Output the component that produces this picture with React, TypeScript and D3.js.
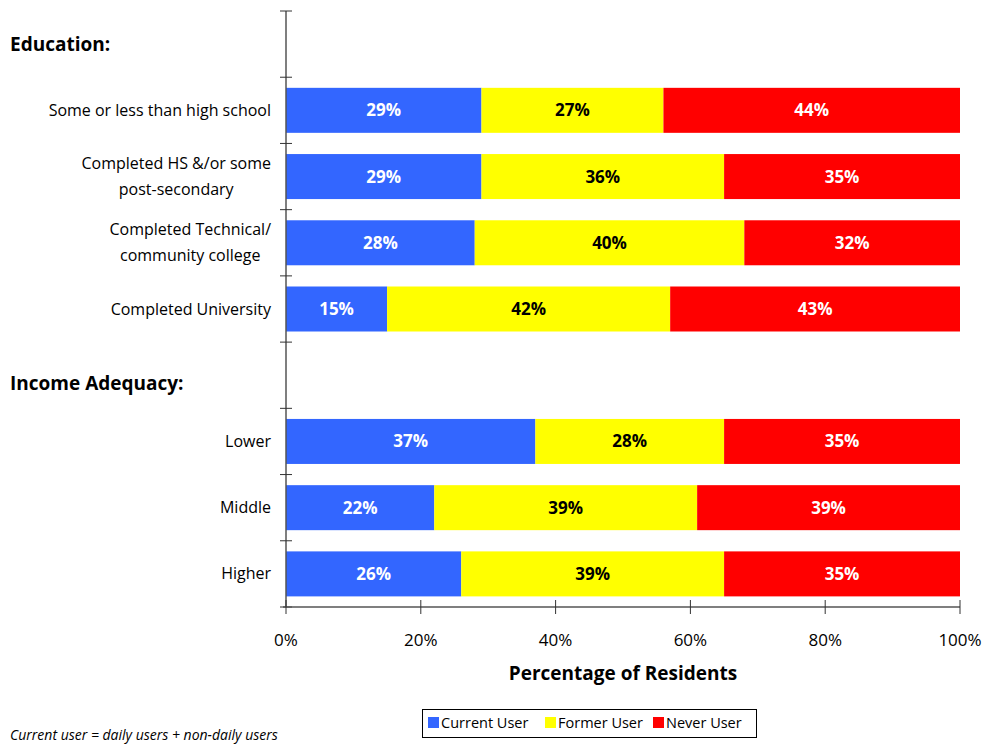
import React, { useEffect, useRef } from "react";
import * as d3 from "d3";

const categories = [
  "__Education:",
  "Some or less than high school",
  "Completed HS &/or some\npost-secondary",
  "Completed Technical/\ncommunity college",
  "Completed University",
  "__Income Adequacy:",
  "Lower",
  "Middle",
  "Higher",
];
const currentUser = [null, 29, 29, 28, 15, null, 37, 22, 26];
const formerUser = [null, 27, 36, 40, 42, null, 28, 39, 39];
const neverUser = [null, 44, 35, 32, 43, null, 35, 39, 35];
const seriesNames = ["Current User", "Former User", "Never User"];
const seriesColors = ["#3366FF", "#FFFF00", "#FF0000"];
const labelColors = ["#FFFFFF", "#000000", "#FFFFFF"];
const xTicks = [0, 20, 40, 60, 80, 100];

const FONT = "'Open Sans', Lato, sans-serif";

export default function App() {
  const ref = useRef<SVGSVGElement>(null);
  useEffect(() => {
    const svg = d3.select(ref.current);
    svg.selectAll("*").remove();
    const x = d3.scaleLinear().domain([0, 100]).range([286, 960]);
    const y = d3.scaleBand().domain(categories.map((_, i) => String(i))).range([11, 607]).paddingInner(0).paddingOuter(0);
    const bh = 45;

    // bars
    const series = [currentUser, formerUser, neverUser];
    categories.forEach((c, i) => {
      if (currentUser[i] == null) return;
      let cum = 0;
      const yc = (y(String(i)) as number) + y.bandwidth() / 2;
      series.forEach((s, k) => {
        const v = s[i] as number;
        const x0 = x(cum), x1 = x(cum + v);
        svg.append("rect").attr("x", x0).attr("y", yc - bh / 2).attr("width", x1 - x0).attr("height", bh).attr("fill", seriesColors[k]);
        svg.append("text").attr("x", (x0 + x1) / 2).attr("y", yc).attr("dy", "0.35em").attr("text-anchor", "middle")
          .attr("font-family", FONT).attr("font-weight", "bold").attr("font-size", 17).attr("fill", labelColors[k]).text(v + "%");
        cum += v;
      });
    });

    // y axis
    svg.append("line").attr("x1", 286).attr("x2", 286).attr("y1", 11).attr("y2", 607).attr("stroke", "#555").attr("stroke-width", 1.5);
    for (let i = 0; i <= categories.length; i++) {
      const yy = i < categories.length ? (y(String(i)) as number) : 607;
      svg.append("line").attr("x1", 280).attr("x2", 292).attr("y1", yy).attr("y2", yy).attr("stroke", "#333").attr("stroke-width", 1);
    }
    // x axis
    svg.append("line").attr("x1", 283).attr("x2", 960).attr("y1", 607).attr("y2", 607).attr("stroke", "#555").attr("stroke-width", 1.5);
    xTicks.forEach((t) => {
      svg.append("line").attr("x1", x(t)).attr("x2", x(t)).attr("y1", 600).attr("y2", 614).attr("stroke", "#333");
      svg.append("text").attr("x", x(t)).attr("y", 646).attr("text-anchor", "middle").attr("font-family", FONT)
        .attr("font-size", 17).attr("fill", "#000").text(t + "%");
    });
    svg.append("text").attr("x", 623).attr("y", 680).attr("text-anchor", "middle").attr("font-family", FONT)
      .attr("font-weight", "bold").attr("font-size", 19).text("Percentage of Residents");

    // category labels
    let headerCount = 0;
    categories.forEach((c, i) => {
      const yc = (y(String(i)) as number) + y.bandwidth() / 2;
      if (c.startsWith("__")) {
        svg.append("text").attr("x", 10).attr("y", yc + (headerCount > 0 ? 8 : 0)).attr("dy", "0.35em").attr("font-family", FONT)
          .attr("font-weight", "bold").attr("font-size", 19).text(c.slice(2));
        headerCount++;
        return;
      }
      const lines = c.split("\n");
      const g = svg.append("g");
      const texts = lines.map((ln, j) =>
        g.append("text").attr("y", yc + (j - (lines.length - 1) / 2) * 26).attr("dy", "0.35em")
          .attr("font-family", FONT).attr("font-size", 16).attr("text-anchor", "middle").text(ln)
      );
      const widths = texts.map((t) => (t.node() as SVGTextElement).getComputedTextLength());
      const maxW = Math.max(...widths);
      texts.forEach((t) => t.attr("x", 271 - maxW / 2));
    });

    // legend
    svg.append("rect").attr("x", 422.5).attr("y", 709.5).attr("width", 334).attr("height", 28).attr("fill", "#fff").attr("stroke", "#000");
    const lx = [428, 545, 653];
    seriesNames.forEach((n, k) => {
      svg.append("rect").attr("x", lx[k]).attr("y", 717).attr("width", 11).attr("height", 11).attr("fill", seriesColors[k]);
      svg.append("text").attr("x", lx[k] + 13).attr("y", 723).attr("dy", "0.35em").attr("font-family", FONT)
        .attr("font-size", 14.5).text(n);
    });
    svg.append("text").attr("x", 10).attr("y", 740).attr("font-family", FONT).attr("font-style", "italic")
      .attr("font-size", 14).text("Current user = daily users + non-daily users");
  }, []);
  return (
    <svg ref={ref} width={985} height={745} style={{ position: "absolute", left: 0, top: 0, background: "#fff" }} />
  );
}
